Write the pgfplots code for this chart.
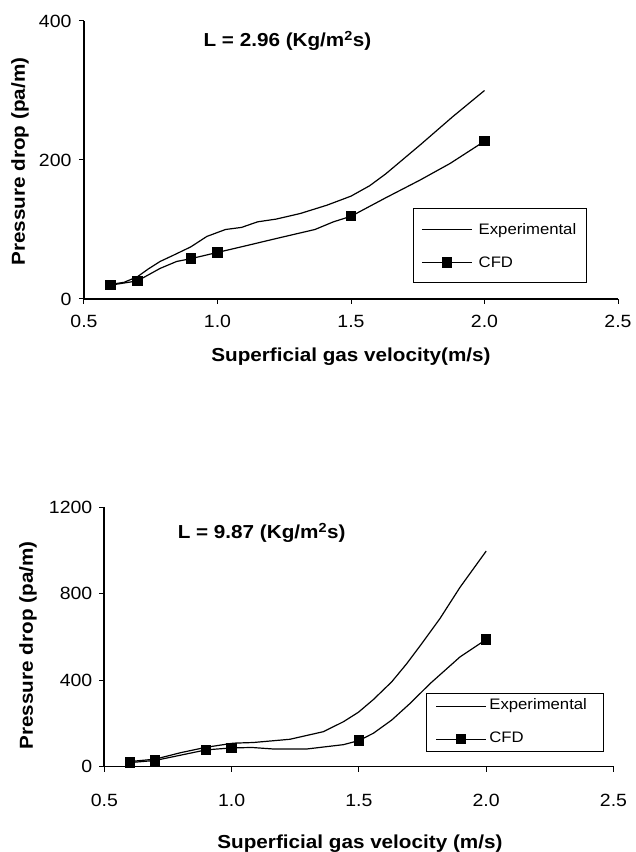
\documentclass[border=0pt]{standalone}
\usepackage{fontspec}
\setmainfont{Liberation Sans}[FakeStretch=1.1]
\usepackage{pgfplots}
\pgfplotsset{compat=1.18}
\newcommand{\fs}[1]{\fontsize{#1}{#1}\selectfont}
\pgfplotsset{
  chart/.style={
    scale only axis,
    axis lines=left,
    axis line style={-, line width=1.6pt, black},
    xmin=0.5, xmax=2.5, ymin=0,
    xtick={0.5,1,1.5,2,2.5},
    tick align=outside,
    major tick length=5pt,
    tick style={black, line width=1pt},
    /pgf/number format/assume math mode=true,
    /pgf/number format/set thousands separator={},
    xticklabel style={/pgf/number format/fixed, /pgf/number format/fixed zerofill, /pgf/number format/precision=1},
    ticklabel style={font=\fs{17.7}},
    label style={font=\bfseries\fs{18.8}},
    legend cell align=left,
    legend image code/.code={\draw[##1, mark indices={2}] plot coordinates {(0pt,0pt) (25pt,0pt) (50pt,0pt)};},
    clip=false,
  },
  expline/.style={black, line width=1.2pt, mark=none},
  cfdline/.style={black, line width=1.2pt, mark=square*, mark size=4.6pt, mark options={solid, fill=black}},
}
\pgfplotstableread{
x y
0.60 21
0.65 24
0.70 32
0.74 43
0.785 54
0.835 63
0.90 75
0.96 90
1.03 100
1.09 103
1.15 111
1.22 115
1.31 123
1.41 135
1.50 148
1.57 163
1.63 180
1.76 222
1.88 262
2.00 300
}\exptop
\pgfplotstableread{
x y
0.60 20
0.70 26
0.785 44
0.847 54
0.90 58
1.00 67
1.10 76
1.22 87
1.365 100
1.434 111
1.50 119
1.627 145
1.758 171
1.871 195
2.00 227
}\cfdtop
\pgfplotstableread{
x y
0.60 23
0.70 34
0.80 64
0.90 89
1.007 108
1.085 111
1.229 126
1.36 161
1.439 207
1.498 251
1.557 310
1.629 392
1.688 476
1.747 569
1.818 684
1.897 829
2.00 997
}\expbot
\pgfplotstableread{
x y
0.60 18
0.70 28
0.90 77
1.00 86
1.08 88
1.164 81
1.295 81
1.374 92
1.439 101
1.50 120
1.557 154
1.629 215
1.701 292
1.780 384
1.897 507
2.00 588
}\cfdbot
\begin{document}
\begin{tikzpicture}
\useasboundingbox (0,0) rectangle (635pt,852pt);
% top chart
\begin{axis}[chart,
  at={(84pt,553pt)}, anchor=south west,
  width=534pt, height=278pt,
  ymax=400, ytick={0,200,400},
  xticklabel style={yshift=-8pt},
  yticklabel style={xshift=-4pt},
  xlabel={Superficial gas velocity(m/s)},
  ylabel={Pressure drop (pa/m)},
  xlabel style={at={(rel axis cs:0.5,-0.2266)}, anchor=base},
  ylabel style={at={(rel axis cs:-0.1199,0.494)}, anchor=center},
  legend style={at={(rel axis cs:0.616,0.326)}, anchor=north west, draw=black, line width=1.1pt,
    font=\fs{15.2}, inner xsep=7.7pt, inner ysep=11pt, row sep=14pt,
    nodes={inner sep=0pt, text height=15pt, text depth=4pt, text width=100pt, align=left},
    /tikz/every odd column/.append style={column sep=6.3pt}},
]
\addplot[expline] table {\exptop};
\addlegendentry{Experimental}
\addplot[cfdline, mark indices={1,2,5,6,11,15}] table {\cfdtop};
\addlegendentry{CFD}
\node[anchor=base, font=\bfseries\fs{18.8}] at (rel axis cs:0.381,0.9076) {L = 2.96 (Kg/m\textsuperscript{2}s)};
\end{axis}
% bottom chart
\begin{axis}[chart,
  at={(104.3pt,85.5pt)}, anchor=south west,
  width=509.2pt, height=259.3pt,
  ymax=1200, ytick={0,400,800,1200},
  xticklabel style={yshift=-19pt},
  yticklabel style={xshift=-3.5pt},
  xlabel={Superficial gas velocity (m/s)},
  ylabel={Pressure drop (pa/m)},
  xlabel style={at={(rel axis cs:0.502,-0.318)}, anchor=base},
  ylabel style={at={(rel axis cs:-0.15,0.467)}, anchor=center},
  legend style={at={(rel axis cs:0.632,0.283)}, anchor=north west, draw=black, line width=1.1pt,
    font=\fs{15.2}, inner xsep=9pt, inner ysep=4.5pt, row sep=17pt,
    nodes={inner sep=0pt, text height=11pt, text depth=5pt, text width=105pt, align=left},
    /tikz/every odd column/.append style={column sep=2.5pt}},
]
\addplot[expline] table {\expbot};
\addlegendentry{Experimental}
\addplot[cfdline, mark indices={1,2,3,4,10,16}] table {\cfdbot};
\addlegendentry{CFD}
\node[anchor=base, font=\bfseries\fs{18.8}] at (rel axis cs:0.309,0.880) {L = 9.87 (Kg/m\textsuperscript{2}s)};
\end{axis}
\end{tikzpicture}
\end{document}
